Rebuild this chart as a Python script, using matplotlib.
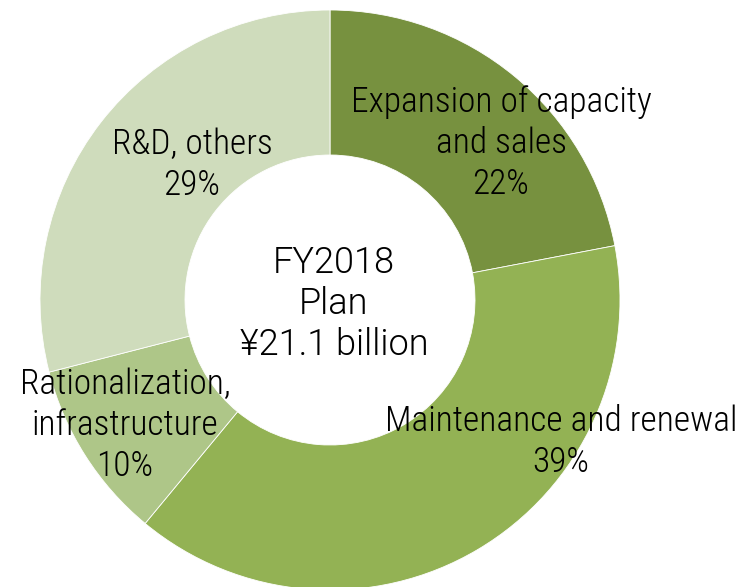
import matplotlib
import matplotlib.pyplot as plt

matplotlib.use('Agg')

# capital expenditure plan breakdown (%)
categories = ['Expansion of capacity\nand sales', 'Maintenance and renewal',
              'Rationalization,\ninfrastructure', 'R&D, others']
shares = [22, 39, 10, 29]
colors = ['#77913F', '#93B254', '#AEC688', '#CFDCBC']
center_text = 'FY2018\nPlan\n¥21.1 billion'

# label anchor points (figure pixels, y measured up from the bottom)
label_pos = [(501, 444), (561, 145), (125, 162), (192, 422)]

plt.rcParams['font.family'] = ['Roboto Condensed', 'DejaVu Sans']
plt.rcParams['font.weight'] = 300

fig = plt.figure(figsize=(7.39, 5.87), dpi=100)
ax = fig.add_axes([0, 0, 1, 1])

ax.pie(shares, colors=colors, startangle=90, counterclock=False,
       radius=290, center=(330, 287),
       wedgeprops=dict(width=145, linewidth=0.6, edgecolor='white'))

# pie() resets the limits, so set the pixel-like frame afterwards
ax.set_xlim(0, 739)
ax.set_ylim(0, 587)
ax.set_aspect('equal')
ax.axis('off')

for cat, val, (x, y) in zip(categories, shares, label_pos):
    ax.text(x, y, f'{cat}\n{val}%', ha='center', va='center',
            fontsize=25.5, linespacing=1.28, color='black', fontweight=300)

# centre caption is set a little wider than the slice labels
ax.text(334, 283, center_text, ha='center', va='center',
        fontsize=26, linespacing=1.18, color='black', fontweight=300,
        family=['Roboto', 'DejaVu Sans'])

fig.savefig('out.png', dpi=100)
plt.close(fig)
